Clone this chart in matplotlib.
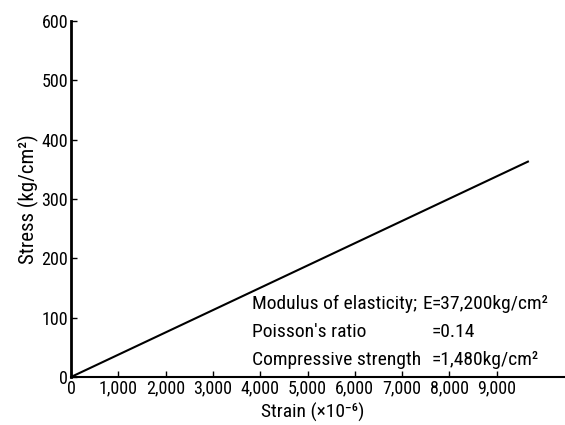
import matplotlib
matplotlib.use("Agg")
import matplotlib.pyplot as plt
from matplotlib import font_manager

strain = [0, 9660]
stress = [0, 363]
xticks = [0, 1000, 2000, 3000, 4000, 5000, 6000, 7000, 8000, 9000]
xticklabels = ["0", "1,000", "2,000", "3,000", "4,000", "5,000", "6,000", "7,000", "8,000", "9,000"]
yticks = [0, 100, 200, 300, 400, 500, 600]
ytick_labels = ["0", "100", "200", "300", "400", "500", "600"]
notes_left = ["Modulus of elasticity;", "Poisson's ratio", "Compressive strength"]
notes_sym = ["E", "", ""]
notes_right = ["=37,200kg/cm²", "=0.14", "=1,480kg/cm²"]

# choose a condensed face if one is installed
entries = font_manager.fontManager.ttflist
names = {f.name for f in entries}
family = None
stretch = 'normal'
for cand in ['Liberation Sans Narrow', 'Roboto Condensed', 'Open Sans Condensed', 'Noto Sans Condensed']:
    if cand in names:
        family = cand
        break
if family is None:
    cond = [f for f in entries if f.name == 'DejaVu Sans' and str(f.stretch) in ('condensed', 'semi-condensed', '87.5', '75')]
    if cond:
        family = 'DejaVu Sans'
        stretch = 'condensed'
    else:
        family = 'Liberation Sans'

plt.rcParams['font.family'] = [family, 'DejaVu Sans']
plt.rcParams['font.stretch'] = stretch
narrow = family != 'Liberation Sans'
k = 1.0 if narrow else 0.85
fs_tick = 13 * k
fs_text = 14 * k
fs_lab = 15 * k
fs_xlab = 14 * k

fig = plt.figure(figsize=(5.65, 4.25), dpi=100)
ax = fig.add_axes([71/565, 48/425, (565-71)/565, (377-21)/425])
ax.plot(strain, stress, color='black', lw=1.5)
ax.set_xlim(0, (565-71)/47.3*1000)
ax.set_ylim(0, 600)
ax.spines['top'].set_visible(False)
ax.spines['right'].set_visible(False)
ax.spines['left'].set_linewidth(2)
ax.spines['bottom'].set_linewidth(1.5)
ax.set_xticks(xticks)
ax.set_xticklabels(xticklabels, fontsize=fs_tick)
ax.set_yticks(yticks)
ax.set_yticklabels(ytick_labels, fontsize=fs_tick)
ax.tick_params(axis='both', direction='in', length=4, width=1)
ax.tick_params(axis='x', pad=2)
ax.tick_params(axis='y', pad=2)
ax.set_xlabel("Strain (×10⁻⁶)", fontsize=fs_xlab, labelpad=0)
ax.xaxis.set_label_coords((313-71)/(565-71), -(403-377)/(377-21), transform=ax.transAxes)
ax.set_ylabel("Stress (kg/cm²)", fontsize=fs_lab, labelpad=2)

ys = [304, 332, 360]
for t, s, tr, yp in zip(notes_left, notes_sym, notes_right, ys):
    fig.text(252/565, 1 - yp/425, t, fontsize=fs_text, va='center', ha='left')
    if s:
        fig.text(432/565, 1 - yp/425, s, fontsize=fs_text, va='center', ha='right')
    fig.text(432/565, 1 - yp/425, tr, fontsize=fs_text, va='center', ha='left')

fig.savefig("out.png", dpi=100)
